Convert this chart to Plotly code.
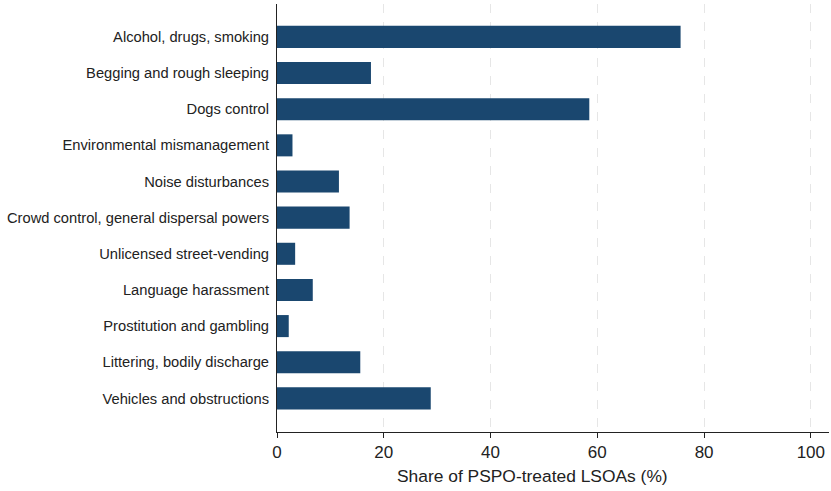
import plotly.graph_objects as go

# PSPO categories (top to bottom) and share of treated LSOAs (%)
categories = [
    "Alcohol, drugs, smoking",
    "Begging and rough sleeping",
    "Dogs control",
    "Environmental mismanagement",
    "Noise disturbances",
    "Crowd control, general dispersal powers",
    "Unlicensed street-vending",
    "Language harassment",
    "Prostitution and gambling",
    "Littering, bodily discharge",
    "Vehicles and obstructions",
]
shares = [75.6, 17.6, 58.5, 2.9, 11.6, 13.6, 3.4, 6.7, 2.2, 15.6, 28.8]
x_ticks = [0, 20, 40, 60, 80, 100]
x_title = "Share of PSPO-treated LSOAs (%)"

navy = "#1a476f"
text_col = "#222222"

fig = go.Figure(
    go.Bar(
        x=shares,
        y=categories,
        orientation="h",
        width=0.61,
        marker=dict(color=navy, line=dict(width=0)),
        hoverinfo="x+y",
    )
)

fig.update_layout(
    width=831,
    height=491,
    margin=dict(l=277, r=2, t=4, b=59),
    paper_bgcolor="white",
    plot_bgcolor="white",
    font=dict(family="Liberation Sans, Arial, Helvetica, sans-serif", color=text_col),
    showlegend=False,
    xaxis=dict(
        range=[0, 103.4],
        tickvals=x_ticks,
        ticktext=[str(v) for v in x_ticks],
        tickfont=dict(size=17, color=text_col),
        ticks="outside",
        ticklen=5,
        tickcolor="#222222",
        showline=True,
        linecolor="#222222",
        linewidth=1,
        showgrid=True,
        gridcolor="#e6e6e6",
        griddash="dash",
        gridwidth=1,
        zeroline=False,
    ),
    yaxis=dict(
        type="category",
        categoryorder="array",
        categoryarray=categories,
        range=[10.93, -0.91],
        tickfont=dict(size=14.7, color=text_col),
        ticks="outside",
        ticklen=0,
        ticklabelstandoff=4,
        showline=True,
        linecolor="#222222",
        linewidth=1,
        showgrid=False,
        zeroline=False,
    ),
    annotations=[
        dict(
            text=x_title,
            xref="paper",
            yref="paper",
            x=0.462,
            y=-0.102,
            xanchor="center",
            yanchor="middle",
            showarrow=False,
            font=dict(size=17.4, color=text_col),
        )
    ],
)

fig.write_html("out.html")
